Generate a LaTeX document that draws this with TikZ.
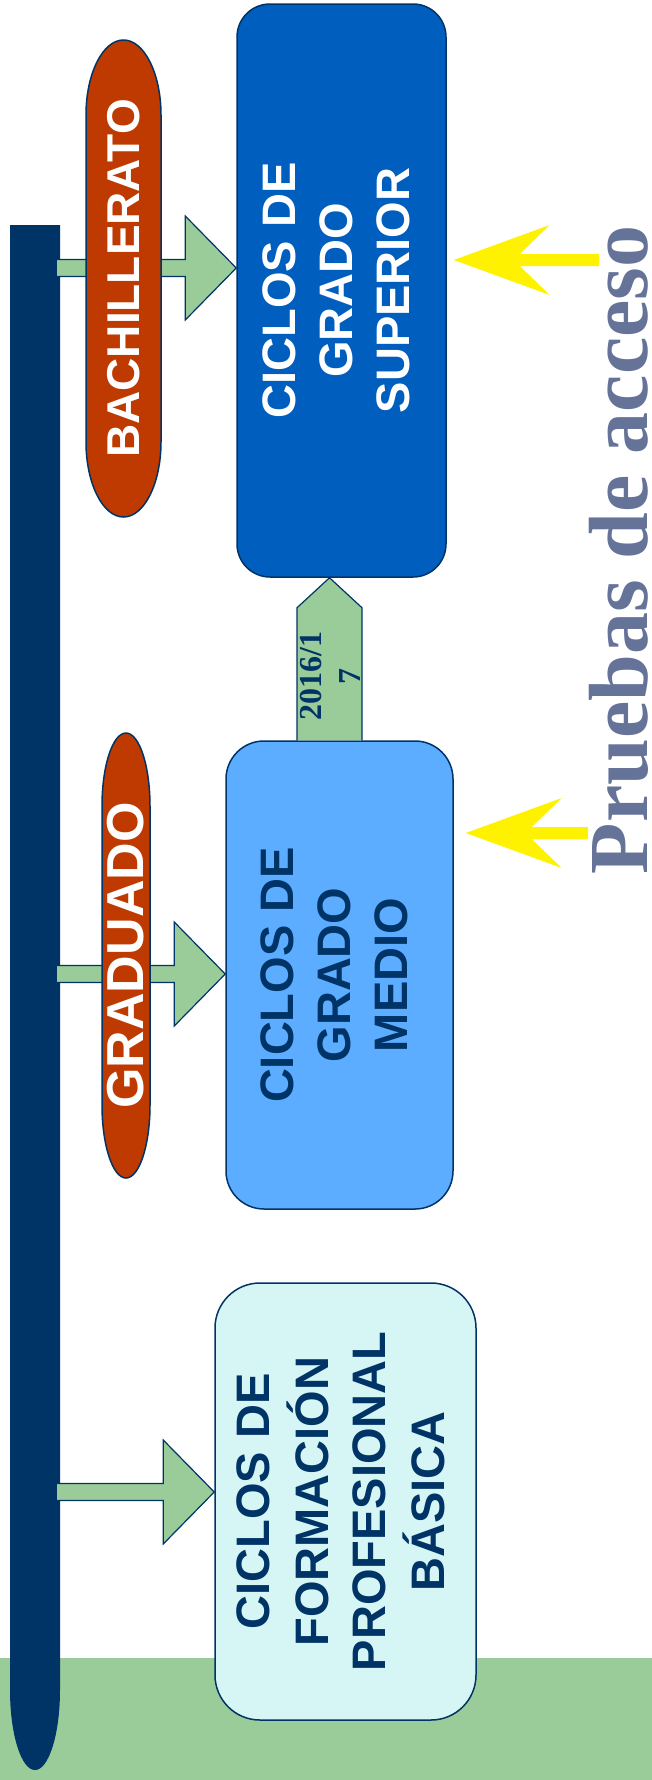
\documentclass[tikz,border=0pt]{standalone}
\usepackage{fontspec}
\setmainfont{Liberation Serif}
\setsansfont{Liberation Sans}
\usepackage{graphicx}
\usetikzlibrary{calc}
\definecolor{navy}{RGB}{0,51,102}
\definecolor{supblue}{RGB}{0,94,190}
\definecolor{medblue}{RGB}{92,172,255}
\definecolor{basblue}{RGB}{214,245,245}
\definecolor{rust}{RGB}{191,58,0}
\definecolor{lgreen}{RGB}{153,204,153}
\definecolor{slate}{RGB}{102,115,153}
\tikzset{
  box/.style={draw=navy, line width=1.5pt, rounded corners=#1, inner sep=0pt,
    font=\sffamily\bfseries\fontsize{47}{57}\selectfont},
  box/.default=35pt,
  garrow/.style={draw=navy, line width=1.2pt, fill=lgreen, line join=miter},
  yarrow/.style={fill=yellow, draw=none},
  capsule/.style={draw=navy, line width=1.5pt, fill=rust},
  captext/.style={rotate=90, inner sep=0pt, text=white},
}
% block arrow: #1 start, #2 tip
\newcommand{\blockarrow}[2]{\draw[garrow] let \p1=(#1), \p2=(#2) in
  (\x1,\y1+8.5pt) -- (\x2-51pt,\y1+8.5pt) -- (\x2-51pt,\y1+52pt) -- (\x2,\y1)
  -- (\x2-51pt,\y1-52pt) -- (\x2-51pt,\y1-8.5pt) -- (\x1,\y1-8.5pt);}
% yellow arrow: #1 tip, #2 tail
\newcommand{\yellowarrow}[2]{\fill[yarrow] let \p1=(#1), \p2=(#2) in
  (\x1,\y1) -- (\x1+96pt,\y1+35pt) -- (\x1+66pt,\y1+6pt) -- (\x2,\y1+6pt)
  -- (\x2,\y1-6pt) -- (\x1+66pt,\y1-6pt) -- (\x1+96pt,\y1-35pt) -- cycle;}
\begin{document}
\begin{tikzpicture}[x=1pt, y=-1pt, line join=round, line cap=round]
\useasboundingbox (0,0) rectangle (652,1780);
% suelo
\fill[lgreen] (0,1658) rectangle (652,1780);
% barra
\fill[navy] (10,225) -- (60,225) -- (60,1690)
  arc[start angle=0, end angle=180, x radius=25, y radius=80] -- cycle;

\node[box=33pt, fill=supblue, text=white, minimum width=209pt, minimum height=573pt]
  (sup) at (341.5,290.5)
  {\rotatebox{90}{\begin{tabular}{@{}c@{}}CICLOS DE\\GRADO\\SUPERIOR\end{tabular}}};
\node[box=38pt, fill=medblue, text=navy, minimum width=227pt, minimum height=468pt]
  (med) at (339.5,975)
  {\rotatebox{90}{\begin{tabular}{@{}c@{}}CICLOS DE\\GRADO\\MEDIO\end{tabular}}};
\node[box=45pt, fill=basblue, text=navy, minimum width=261pt, minimum height=437pt]
  (bas) at (345.5,1501.5)
  {\rotatebox{90}{\begin{tabular}{@{}c@{}}CICLOS DE\\FORMACIÓN\\PROFESIONAL\\BÁSICA\end{tabular}}};

\coordinate (g1) at (57,268);
\coordinate (g2) at (57,974);
\coordinate (g3) at (57,1492);
\blockarrow{g1}{g1 -| sup.west}
\blockarrow{g2}{g2 -| med.west}
\blockarrow{g3}{g3 -| bas.west}

\draw[capsule] (86,115) -- (86,442)
  arc[start angle=180, end angle=0, x radius=37.5, y radius=75] -- (161,115)
  arc[start angle=0, end angle=-180, x radius=37.5, y radius=75] -- cycle;
\node[captext, font=\sffamily\bfseries\fontsize{46}{50}\selectfont] (bach) at (123.5,278.5) {BACHILLERATO};
\draw[capsule] (102,806) -- (102,1105)
  arc[start angle=180, end angle=0, x radius=24, y radius=73] -- (150,806)
  arc[start angle=0, end angle=-180, x radius=24, y radius=73] -- cycle;
\node[captext, font=\sffamily\bfseries\fontsize{52}{56}\selectfont] (grad) at (126,955.5) {GRADUADO};

% de medio a superior
\coordinate (ya) at ($(med.north)+(-10,0)$);
\draw[garrow] let \p1=(ya), \p2=(ya |- sup.south) in
  (\x1-32.5pt,\y1) -- (\x1-32.5pt,\y2-30pt) -- (\x2,\y2) -- (\x1+32.5pt,\y2-30pt) -- (\x1+32.5pt,\y1);
\node[rotate=90, align=center, inner sep=0pt, text=navy,
  font=\rmfamily\bfseries\fontsize{32}{39}\selectfont] (curso) at (330,676) {2016/1\\7};

\coordinate (p1) at (599,260);
\coordinate (p2) at (588,833);
\yellowarrow{$(p1 -| sup.east)+(7,0)$}{p1}
\yellowarrow{$(p2 -| med.east)+(12,0)$}{p2}

\node[rotate=90, inner sep=0pt, text=slate,
  font=\rmfamily\bfseries\fontsize{84}{90}\selectfont] (pruebas) at (619,550) {Pruebas de acceso};
\end{tikzpicture}
\end{document}
